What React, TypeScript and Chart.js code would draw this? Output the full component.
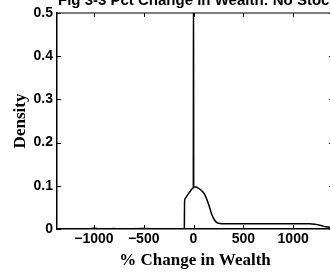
import React, { useEffect, useRef } from "react";
import { Chart, registerables } from "chart.js";

Chart.register(...registerables);

const titleText = "Fig 3-3 Pct Change in Wealth: No Stock";
const xAxisLabel = "% Change in Wealth";
const yAxisLabel = "Density";
const xTickValues = [-1000, -500, 0, 500, 1000];
const yTickValues = [0, 0.1, 0.2, 0.3, 0.4, 0.5];

const pctChange = [
  -1370, -1200, -1050, -1000, -950, -850, -800, -750, -500, -300, -100, -92,
  -90, -85, -70, -50, -30, -10, -2, 0, 2, 10, 25, 50, 80, 110, 140, 160, 180,
  200, 220, 240, 270, 300, 600, 900, 1100, 1160, 1220, 1280, 1330, 1400,
];
const density = [
  0, 0, 0, 0.002, 0, 0, 0.001, 0, 0.001, 0, 0, 0,
  0.062, 0.07, 0.075, 0.082, 0.088, 0.094, 0.096, 0.6, 0.097, 0.097, 0.097, 0.094, 0.089, 0.081, 0.065, 0.051, 0.036,
  0.025, 0.018, 0.014, 0.0125, 0.012, 0.012, 0.012, 0.012, 0.012, 0.011, 0.008, 0.005, 0.003,
];

const framePlugin = {
  id: "frame",
  afterDraw(chart: any) {
    const { ctx, chartArea: a, scales } = chart;
    ctx.save();
    ctx.strokeStyle = "#000";
    ctx.lineWidth = 1;
    ctx.beginPath();
    ctx.moveTo(a.left, a.top);
    ctx.lineTo(a.right, a.top);
    ctx.lineTo(a.right, a.bottom);
    ctx.stroke();
    const tl = 4;
    ctx.beginPath();
    for (const v of xTickValues) {
      const px = Math.round(scales.x.getPixelForValue(v)) + 0.5;
      ctx.moveTo(px, a.bottom);
      ctx.lineTo(px, a.bottom - tl);
      ctx.moveTo(px, a.top);
      ctx.lineTo(px, a.top + tl);
    }
    for (const v of yTickValues) {
      const py = Math.round(scales.y.getPixelForValue(v)) + 0.5;
      ctx.moveTo(a.left, py);
      ctx.lineTo(a.left + tl, py);
      ctx.moveTo(a.right, py);
      ctx.lineTo(a.right - tl, py);
    }
    ctx.stroke();
    ctx.font = 'bold 15px "Liberation Sans", Arial, sans-serif';
    ctx.fillStyle = "#000";
    ctx.textAlign = "left";
    ctx.textBaseline = "alphabetic";
    ctx.fillText(titleText, 58, 5);
    ctx.restore();
  },
};

export default function App() {
  const ref = useRef<HTMLCanvasElement | null>(null);
  useEffect(() => {
    document.body.style.margin = "0";
    const canvas = ref.current;
    if (!canvas) return;
    const tickFont = { family: '"Liberation Sans", Arial, sans-serif', size: 14, weight: "bold" as const };
    const titleFont = { family: '"Liberation Serif", "Times New Roman", serif', size: 17, weight: "bold" as const };
    const chart = new Chart(canvas, {
      type: "line",
      data: {
        datasets: [
          {
            data: pctChange.map((x, i) => ({ x, y: density[i] })),
            borderColor: "#000",
            borderWidth: 1.5,
            pointRadius: 0,
            fill: false,
            cubicInterpolationMode: "monotone",
          },
        ],
      },
      options: {
        animation: false,
        responsive: false,
        devicePixelRatio: 1,
        layout: { padding: { left: 0, top: 13, right: 12, bottom: 0 } },
        plugins: { legend: { display: false }, tooltip: { enabled: false }, title: { display: false } },
        scales: {
          x: {
            type: "linear",
            min: -1370,
            max: 1400,
            afterBuildTicks: (scale: any) => {
              scale.ticks = xTickValues.map((v) => ({ value: v }));
            },
            afterFit: (scale: any) => {
              scale.height = 46;
            },
            grid: { display: false, drawTicks: false },
            border: { display: true, color: "#000", width: 1.5 },
            ticks: {
              color: "#000",
              font: tickFont,
              padding: 2,
              maxRotation: 0,
              autoSkip: false,
              callback: (v: any) => (Number(v) < 0 ? "\u2212" + Math.abs(Number(v)) : String(v)),
            },
            title: { display: true, text: xAxisLabel, color: "#000", font: titleFont, padding: { top: 0, bottom: 4 } },
          },
          y: {
            min: 0,
            max: 0.5,
            afterBuildTicks: (scale: any) => {
              scale.ticks = yTickValues.map((v) => ({ value: v }));
            },
            afterFit: (scale: any) => {
              scale.width = 57;
            },
            grid: { display: false, drawTicks: false },
            border: { display: true, color: "#000", width: 1.5 },
            ticks: {
              color: "#000",
              font: tickFont,
              padding: 4,
              callback: (v: any) => (Number(v) === 0 ? "0" : Number(v).toFixed(1)),
            },
            title: { display: true, text: yAxisLabel, color: "#000", font: titleFont, padding: { top: 10, bottom: 0 } },
          },
        },
      },
      plugins: [framePlugin],
    });
    return () => chart.destroy();
  }, []);
  return (
    <div style={{ position: "relative", width: 330, height: 275, overflow: "hidden" }}>
      <canvas ref={ref} width={345} height={275} style={{ position: "absolute", left: 0, top: 0, width: 345, height: 275 }} />
    </div>
  );
}
